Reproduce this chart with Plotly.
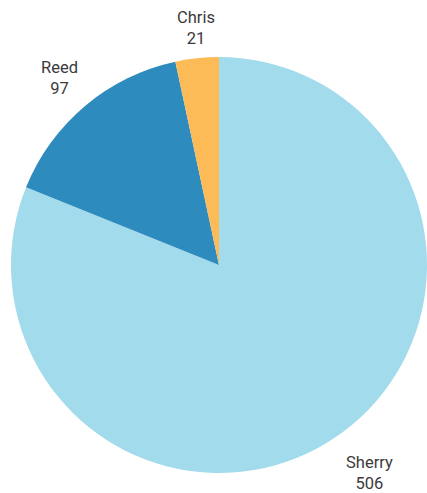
import math
import plotly.graph_objects as go

names = ["Sherry", "Reed", "Chris"]
counts = [506, 97, 21]
colors = ["#A2DBEC", "#2D8BBE", "#FDBB58"]

W, H = 427, 493
cx, cy, R = 219, 265, 208  # pie centre and radius in pixels

fig = go.Figure(go.Pie(
    labels=names,
    values=counts,
    sort=False,
    direction="clockwise",
    rotation=0,
    marker=dict(colors=colors, line=dict(width=0)),
    textinfo="none",
    hoverinfo="label+value",
    showlegend=False,
    domain=dict(x=[(cx - R) / W, min(1.0, (cx + R) / W)],
                y=[(H - cy - R) / H, (H - cy + R) / H]),
))

# outside labels placed at each slice's mid-angle
total = sum(counts)
start = 0.0
annotations = []
for name, v in zip(names, counts):
    mid = (start + v / 2) / total * 2 * math.pi
    start += v
    s, c = math.sin(mid), math.cos(mid)
    rr = R + (8 if c > 0 else 16)
    px = cx + s * rr
    py = cy - c * rr
    xa = "center" if abs(s) < 0.3 else ("left" if s > 0 else "right")
    ya = "bottom" if c > 0 else "top"
    annotations.append(dict(
        x=px / W, y=1 - py / H, xref="paper", yref="paper",
        text=f"{name}<br>{v}", showarrow=False,
        xanchor=xa, yanchor=ya, align="center",
        font=dict(family="Roboto, Arial, sans-serif",
                  size=16.5, color="#3a3a3a"),
    ))

fig.update_layout(
    width=W, height=H,
    margin=dict(l=0, r=0, t=0, b=0),
    paper_bgcolor="white",
    plot_bgcolor="white",
    annotations=annotations,
)

fig.write_html("out.html")
